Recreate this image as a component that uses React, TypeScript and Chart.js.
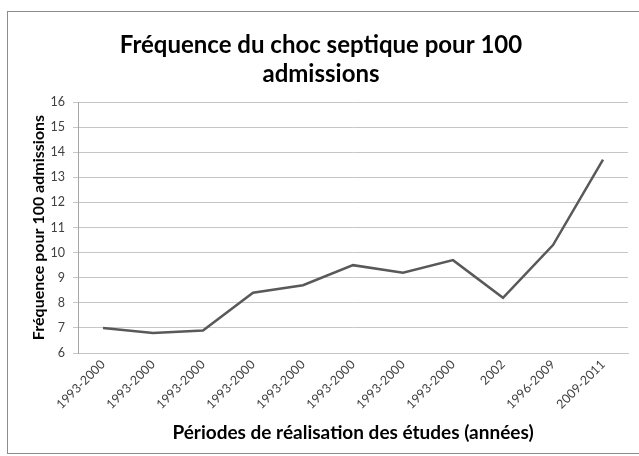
import React, { useEffect, useRef } from 'react';
import { Chart, registerables } from 'chart.js';

Chart.register(...registerables);

const categories = [
  '1993-2000', '1993-2000', '1993-2000', '1993-2000', '1993-2000',
  '1993-2000', '1993-2000', '1993-2000', '2002', '1996-2009', '2009-2011',
];
const frequency = [7.0, 6.8, 6.9, 8.4, 8.7, 9.5, 9.2, 9.7, 8.2, 10.3, 13.7];
const yMin = 6;
const yMax = 16;
const yStep = 1;
const titleLines = ['Fréquence du choc septique pour 100', 'admissions'];
const yTitle = 'Fréquence pour 100 admissions';
const xTitle = 'Périodes de réalisation des études (années)';

const FONT = 'Lato, Calibri, Carlito, "Open Sans", sans-serif';

const titlePlugin = {
  id: 'customTitle',
  afterDraw(chart: any) {
    const ctx = chart.ctx;
    ctx.save();
    ctx.font = `bold 24px ${FONT}`;
    ctx.fillStyle = '#000000';
    ctx.textAlign = 'center';
    ctx.textBaseline = 'middle';
    titleLines.forEach((line, i) => ctx.fillText(line, 321, 45 + i * 29));
    ctx.restore();
  },
};

export default function App() {
  const canvasRef = useRef<HTMLCanvasElement | null>(null);

  useEffect(() => {
    if (!canvasRef.current) return;
    const chart = new Chart(canvasRef.current, {
      type: 'line',
      data: {
        labels: categories,
        datasets: [
          {
            data: frequency,
            borderColor: '#595959',
            borderWidth: 2.5,
            pointRadius: 0,
            tension: 0,
            fill: false,
          },
        ],
      },
      options: {
        responsive: false,
        animation: false,
        layout: { padding: { left: 0, right: 11, top: 102, bottom: 0 } },
        plugins: {
          legend: { display: false },
          tooltip: { enabled: false },
          title: { display: false },
        },
        scales: {
          x: {
            offset: true,
            grid: { display: false, drawTicks: false, offset: true },
            border: { display: true, color: '#c6c6c6', width: 1 },
            ticks: {
              minRotation: 45,
              maxRotation: 45,
              autoSkip: false,
              padding: 4,
              color: '#404040',
              font: { family: FONT, size: 12.5 },
            },
            title: {
              display: true,
              text: xTitle,
              color: '#000000',
              font: { family: FONT, size: 19, weight: 'bold', lineHeight: 1.2 },
              padding: { top: 0, bottom: 12 },
            },
            afterFit: (s: any) => {
              s.height = 103;
            },
          },
          y: {
            min: yMin,
            max: yMax,
            grid: { color: '#c6c6c6', lineWidth: 1, drawTicks: true, tickLength: 5 },
            border: { display: true, color: '#a6a6a6', width: 1 },
            ticks: {
              stepSize: yStep,
              padding: 8,
              color: '#404040',
              font: { family: FONT, size: 12.5 },
            },
            title: {
              display: true,
              text: yTitle,
              color: '#000000',
              font: { family: FONT, size: 16, weight: 'bold', lineHeight: 1.2 },
              padding: { top: 29, bottom: 0 },
            },
            afterFit: (s: any) => {
              s.width = 78;
            },
          },
        },
      },
      plugins: [titlePlugin],
    });
    return () => chart.destroy();
  }, []);

  return (
    <div style={{ position: 'fixed', left: 0, top: 0, width: 639, height: 456, overflow: 'hidden', background: '#ffffff' }}>
      <div
        style={{
          position: 'absolute',
          left: 7,
          top: 11,
          width: 700,
          height: 443,
          border: '1px solid #8c8c8c',
          boxSizing: 'border-box',
        }}
      />
      <canvas ref={canvasRef} width={639} height={456} style={{ position: 'absolute', left: 0, top: 0 }} />
    </div>
  );
}
